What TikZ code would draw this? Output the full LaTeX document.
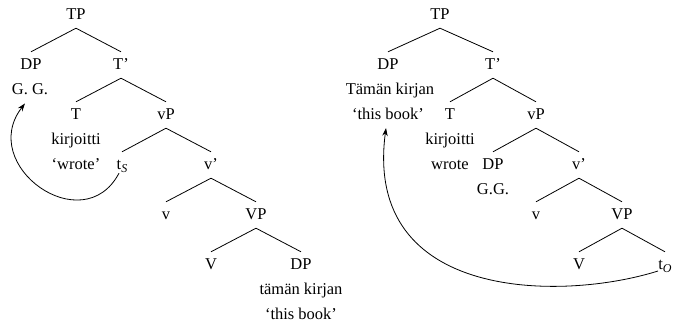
\documentclass[tikz,border=0pt]{standalone}
\usepackage{fontspec}
\setmainfont{Liberation Serif}
\usetikzlibrary{arrows.meta}
\tikzset{
  lab/.style={anchor=base, inner sep=0pt, font=\fontsize{16.5bp}{20bp}\selectfont},
  cat/.style={lab, text height=11bp, text depth=3bp, inner ysep=6bp},
  branch/.style={line width=0.8bp},
  move/.style={line width=0.8bp, -{Stealth[length=8bp,width=5.5bp]}}
}
\newcommand{\trace}[1]{t\raisebox{-3bp}{\fontsize{12bp}{12bp}\selectfont\itshape #1}}
\begin{document}
\begin{tikzpicture}[x=1bp,y=1bp]
\useasboundingbox (0,0) rectangle (684,324);

% ---------- subject movement tree ----------
\node[cat] (lTP)   at (76,305)  {TP};
\node[cat] (lDP)   at (31,255)  {DP};
\node[lab] (lGG)   at (30,230)  {G. G.};
\node[cat] (lTb)   at (121,255) {T’};
\node[cat] (lT)    at (76,205)  {T};
\node[lab] (lkir)  at (76,180)  {kirjoitti};
\node[lab] (lwr)   at (76,155)  {‘wrote’};
\node[cat] (lvP)   at (166,205) {vP};
\node[cat] (lts)   at (122,155) {\trace{S}};
\node[cat] (lvb)   at (211,155) {v’};
\node[cat] (lv)    at (166,105) {v};
\node[cat] (lVP)   at (256,105) {VP};
\node[cat] (lV)    at (211,55)  {V};
\node[cat] (lDPo)  at (301,55)  {DP};
\node[lab] (ltam)  at (301,30)  {tämän kirjan};
\node[lab] (lbook) at (301,5)   {‘this book’};

\foreach \p/\c in {lTP/lDP, lTP/lTb, lTb/lT, lTb/lvP, lvP/lts, lvP/lvb,
                   lvb/lv, lvb/lVP, lVP/lV, lVP/lDPo}
  \draw[branch] (\p.south) -- (\c.north);

\draw[move] ([shift={(-3bp,5bp)}]lts.south)
  .. controls +(-36,-68) and +(-48,-62) .. ([shift={(-5bp,-9bp)}]lGG.south);

% ---------- object movement tree ----------
\node[cat] (rTP)   at (440,305) {TP};
\node[cat] (rDP)   at (388,255) {DP};
\node[lab] (rtam)  at (390,230) {Tämän kirjan};
\node[lab] (rbook) at (388,205) {‘this book’};
\node[cat] (rTb)   at (493,255) {T’};
\node[cat] (rT)    at (450,205) {T};
\node[lab] (rkir)  at (450,180) {kirjoitti};
\node[lab] (rwr)   at (450,155) {wrote};
\node[cat] (rvP)   at (536,205) {vP};
\node[cat] (rDPs)  at (493,155) {DP};
\node[lab] (rGG)   at (493,130) {G.G.};
\node[cat] (rvb)   at (579,155) {v’};
\node[cat] (rv)    at (536,105) {v};
\node[cat] (rVP)   at (622,105) {VP};
\node[cat] (rV)    at (579,55)  {V};
\node[cat] (rto)   at (665,55)  {\trace{O}};

\foreach \p/\c in {rTP/rDP, rTP/rTb, rTb/rT, rTb/rvP, rvP/rDPs, rvP/rvb,
                   rvb/rv, rvb/rVP, rVP/rV, rVP/rto}
  \draw[branch] (\p.south) -- (\c.north);

\draw[move] ([shift={(-7bp,-2bp)}]rto.base)
  .. controls +(-95,-30) and +(-23,-174) .. ([shift={(-2bp,-9bp)}]rbook.base);
\end{tikzpicture}
\end{document}
